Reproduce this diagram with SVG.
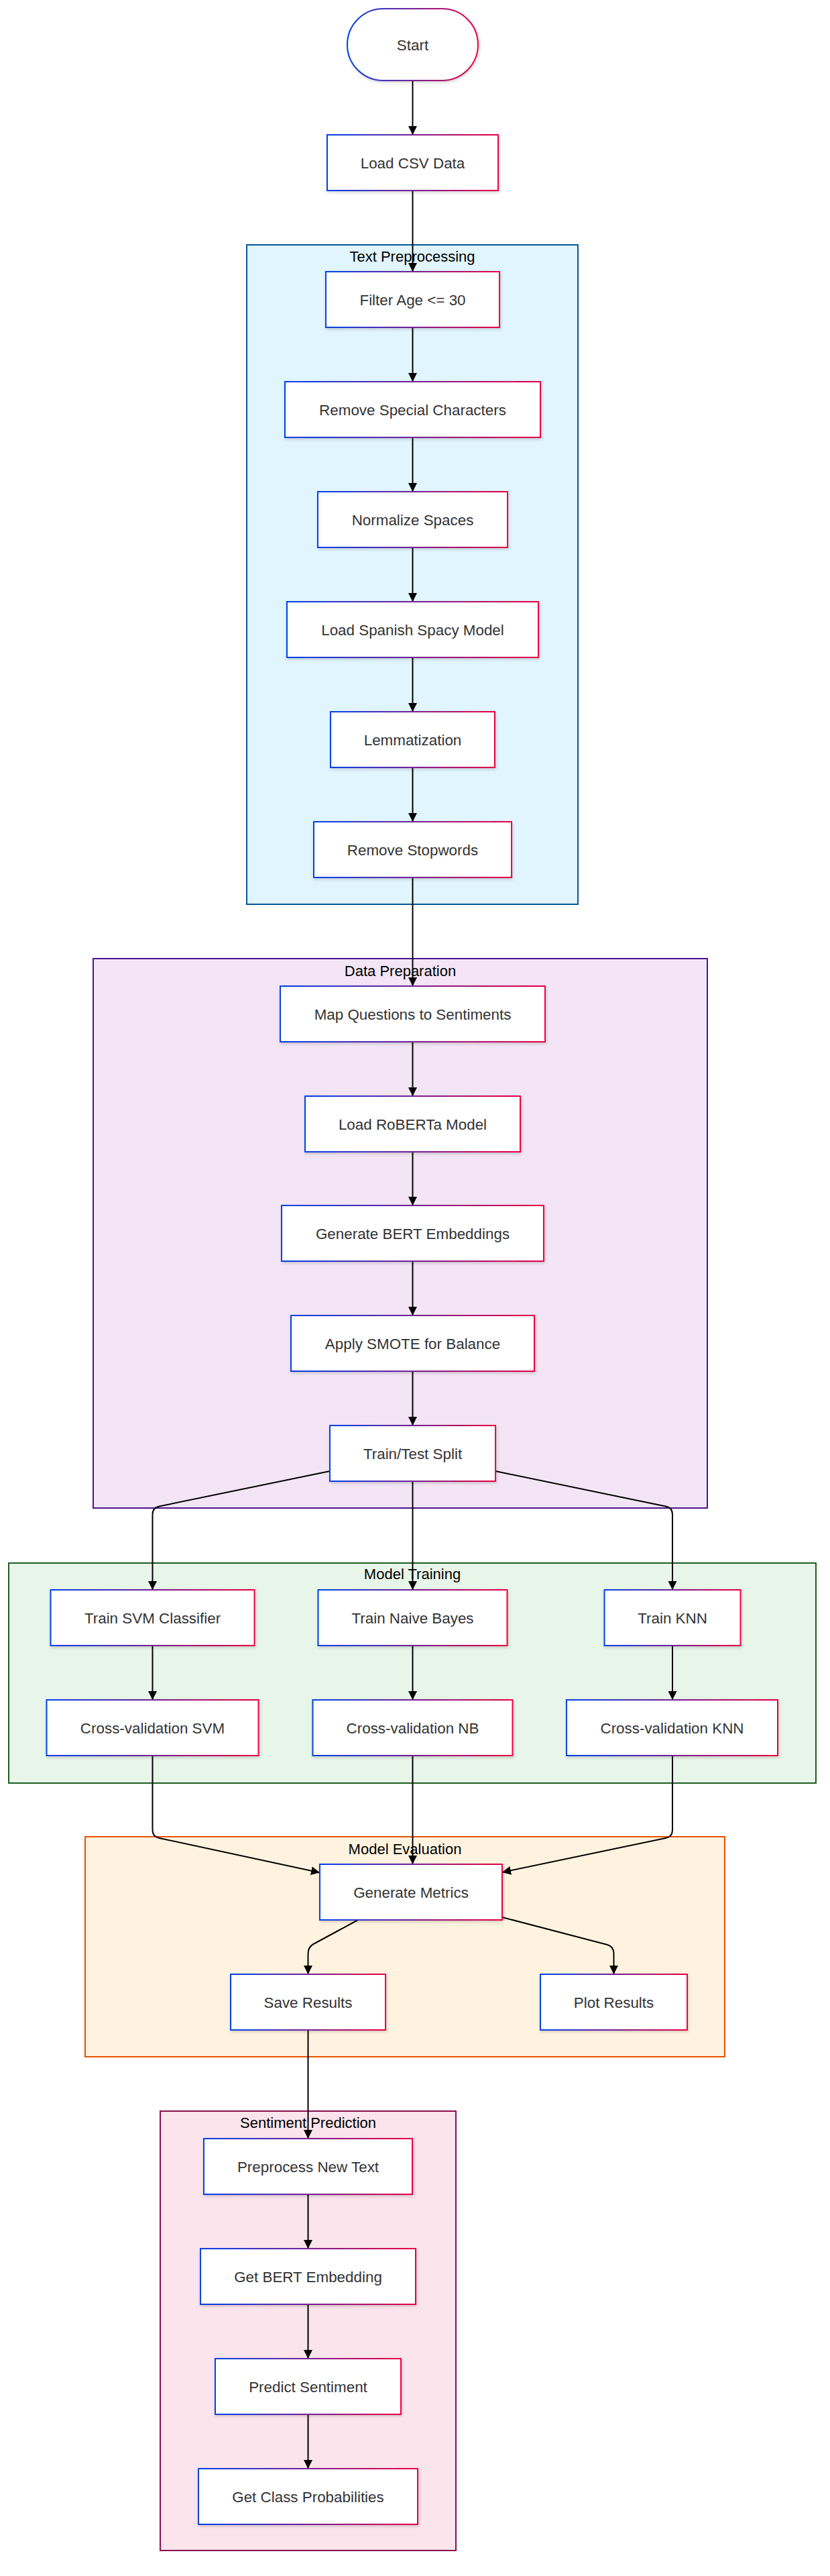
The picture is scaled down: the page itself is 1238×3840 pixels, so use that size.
<svg xmlns="http://www.w3.org/2000/svg" width="1238" height="3840" viewBox="0 0 1238 3840">
<defs>
<linearGradient id="grad" x1="0" y1="0" x2="1" y2="0">
<stop offset="0" stop-color="#0042eb"/>
<stop offset="1" stop-color="#eb0042"/>
</linearGradient>
<filter id="shadow" x="-10%" y="-10%" width="120%" height="130%">
<feDropShadow dx="1" dy="2" stdDeviation="2" flood-color="#000" flood-opacity="0.18"/>
</filter>
<marker id="arrow" viewBox="0 0 10 10" refX="10" refY="5" markerUnits="userSpaceOnUse" markerWidth="13" markerHeight="13" orient="auto">
<path d="M0,0 L10,5 L0,10 z" fill="#000"/>
</marker>
</defs>
<style>
.node rect{fill:#fff;stroke:url(#grad);stroke-width:2;filter:url(#shadow)}
.node text{font-family:"Liberation Sans",Arial,sans-serif;font-size:22.4px;fill:#333;text-anchor:middle}
.cluster rect{stroke-width:2}
.cluster text{font-family:"Liberation Sans",Arial,sans-serif;font-size:22px;fill:#000;text-anchor:middle}
.edges path{fill:none;stroke:#000;stroke-width:2;marker-end:url(#arrow)}
</style>
<rect width="1238" height="3840" fill="#fff"/>

<g id="cluster-text-preprocessing" class="cluster">
<rect x="368" y="365" width="494" height="983" fill="#e1f5fe" stroke="#01579b"/>
<text x="615" y="390">Text Preprocessing</text>
</g>
<g id="cluster-data-preparation" class="cluster">
<rect x="139" y="1429" width="916" height="819" fill="#f3e5f5" stroke="#4a148c"/>
<text x="597" y="1455">Data Preparation</text>
</g>
<g id="cluster-model-training" class="cluster">
<rect x="13" y="2330" width="1204" height="328" fill="#e8f5e9" stroke="#1b5e20"/>
<text x="615" y="2354">Model Training</text>
</g>
<g id="cluster-model-evaluation" class="cluster">
<rect x="127" y="2738" width="954" height="328" fill="#fff3e0" stroke="#e65100"/>
<text x="604" y="2764">Model Evaluation</text>
</g>
<g id="cluster-sentiment-prediction" class="cluster">
<rect x="239" y="3147" width="441" height="655" fill="#fce4ec" stroke="#880e4f"/>
<text x="459.5" y="3172">Sentiment Prediction</text>
</g>

<g id="edges" class="edges">
<path d="M615.5,120 L615.5,201"/>
<path d="M615.5,284 L615.5,405"/>
<path d="M615.5,488 L615.5,569"/>
<path d="M615.5,652 L615.5,733"/>
<path d="M615.5,816 L615.5,897"/>
<path d="M615.5,980 L615.5,1061"/>
<path d="M615.5,1144 L615.5,1225"/>
<path d="M615.5,1308 L615.5,1470"/>
<path d="M615.5,1553 L615.5,1634"/>
<path d="M615.5,1717 L615.5,1797"/>
<path d="M615.5,1880 L615.5,1961"/>
<path d="M615.5,2044 L615.5,2125"/>
<path d="M492,2193 L237.5,2245.5 Q227.5,2247.5 227.5,2257.5 L227.5,2370"/>
<path d="M615.5,2208 L615.5,2370"/>
<path d="M739,2193 L993,2245.5 Q1003,2247.5 1003,2257.5 L1003,2370"/>
<path d="M227.5,2453 L227.5,2534"/>
<path d="M615.5,2453 L615.5,2534"/>
<path d="M1003,2453 L1003,2534"/>
<path d="M227.5,2617 L227.5,2728 Q227.5,2738 237.5,2740 L477,2791.5"/>
<path d="M615.5,2617 L615.5,2779"/>
<path d="M1003,2617 L1003,2728 Q1003,2738 993,2740 L749,2791"/>
<path d="M534,2862 L467.5,2898 Q459.5,2902.5 459.5,2912 L459.5,2943"/>
<path d="M749,2858 L906,2899 Q915.5,2902 915.5,2912 L915.5,2943"/>
<path d="M459.5,3026 L459.5,3188"/>
<path d="M459.5,3271 L459.5,3352"/>
<path d="M459.5,3435 L459.5,3516"/>
<path d="M459.5,3599 L459.5,3680"/>
</g>

<g id="node-start" class="node">
<rect x="518" y="13" width="195" height="107" rx="53.5" ry="53.5"/>
<text x="615.5" y="74.5">Start</text>
</g>
<g id="node-load-csv" class="node">
<rect x="488" y="201" width="255" height="83"/>
<text x="615.5" y="250.5">Load CSV Data</text>
</g>
<g id="node-filter-age" class="node">
<rect x="486" y="405" width="259" height="83"/>
<text x="615.5" y="454.5">Filter Age &lt;= 30</text>
</g>
<g id="node-remove-special" class="node">
<rect x="425" y="569" width="381" height="83"/>
<text x="615.5" y="618.5">Remove Special Characters</text>
</g>
<g id="node-normalize" class="node">
<rect x="474" y="733" width="283" height="83"/>
<text x="615.5" y="782.5">Normalize Spaces</text>
</g>
<g id="node-load-spacy" class="node">
<rect x="428" y="897" width="375" height="83"/>
<text x="615.5" y="946.5">Load Spanish Spacy Model</text>
</g>
<g id="node-lemmatization" class="node">
<rect x="493" y="1061" width="245" height="83"/>
<text x="615.5" y="1110.5">Lemmatization</text>
</g>
<g id="node-remove-stopwords" class="node">
<rect x="468" y="1225" width="295" height="83"/>
<text x="615.5" y="1274.5">Remove Stopwords</text>
</g>
<g id="node-map-questions" class="node">
<rect x="418" y="1470" width="395" height="83"/>
<text x="615.5" y="1519.5">Map Questions to Sentiments</text>
</g>
<g id="node-load-roberta" class="node">
<rect x="455" y="1634" width="321" height="83"/>
<text x="615.5" y="1683.5">Load RoBERTa Model</text>
</g>
<g id="node-bert-embeddings" class="node">
<rect x="420" y="1797" width="391" height="83"/>
<text x="615.5" y="1846.5">Generate BERT Embeddings</text>
</g>
<g id="node-smote" class="node">
<rect x="434" y="1961" width="363" height="83"/>
<text x="615.5" y="2010.5">Apply SMOTE for Balance</text>
</g>
<g id="node-train-test" class="node">
<rect x="492" y="2125" width="247" height="83"/>
<text x="615.5" y="2174.5">Train/Test Split</text>
</g>
<g id="node-train-svm" class="node">
<rect x="75.5" y="2370" width="304" height="83"/>
<text x="227.5" y="2419.5">Train SVM Classifier</text>
</g>
<g id="node-train-nb" class="node">
<rect x="474.5" y="2370" width="282" height="83"/>
<text x="615.5" y="2419.5">Train Naive Bayes</text>
</g>
<g id="node-train-knn" class="node">
<rect x="901.5" y="2370" width="203" height="83"/>
<text x="1003" y="2419.5">Train KNN</text>
</g>
<g id="node-cv-svm" class="node">
<rect x="69.5" y="2534" width="316" height="83"/>
<text x="227.5" y="2583.5">Cross-validation SVM</text>
</g>
<g id="node-cv-nb" class="node">
<rect x="466.5" y="2534" width="298" height="83"/>
<text x="615.5" y="2583.5">Cross-validation NB</text>
</g>
<g id="node-cv-knn" class="node">
<rect x="845" y="2534" width="315" height="83"/>
<text x="1002.5" y="2583.5">Cross-validation KNN</text>
</g>
<g id="node-generate-metrics" class="node">
<rect x="477" y="2779" width="272" height="83"/>
<text x="613" y="2828.5">Generate Metrics</text>
</g>
<g id="node-save-results" class="node">
<rect x="344" y="2943" width="231" height="83"/>
<text x="459.5" y="2992.5">Save Results</text>
</g>
<g id="node-plot-results" class="node">
<rect x="806" y="2943" width="219" height="83"/>
<text x="915.5" y="2992.5">Plot Results</text>
</g>
<g id="node-preprocess-new" class="node">
<rect x="304" y="3188" width="311" height="83"/>
<text x="459.5" y="3237.5">Preprocess New Text</text>
</g>
<g id="node-get-bert" class="node">
<rect x="299" y="3352" width="321" height="83"/>
<text x="459.5" y="3401.5">Get BERT Embedding</text>
</g>
<g id="node-predict" class="node">
<rect x="321" y="3516" width="277" height="83"/>
<text x="459.5" y="3565.5">Predict Sentiment</text>
</g>
<g id="node-class-probs" class="node">
<rect x="296" y="3680" width="327" height="83"/>
<text x="459.5" y="3729.5">Get Class Probabilities</text>
</g>
</svg>
